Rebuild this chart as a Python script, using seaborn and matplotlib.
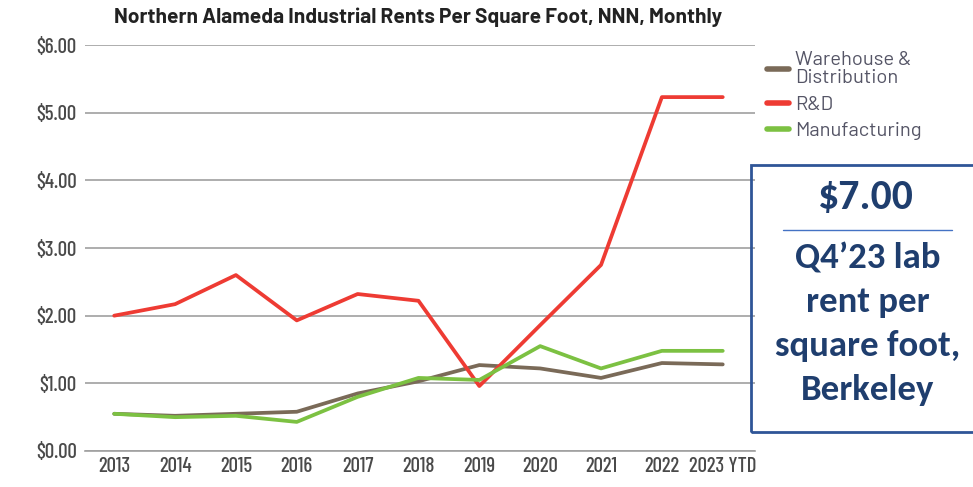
import pandas as pd
import matplotlib.pyplot as plt
import seaborn as sns
from matplotlib.patches import Rectangle
from matplotlib.lines import Line2D

# Data
years = ['2013', '2014', '2015', '2016', '2017', '2018', '2019', '2020', '2021', '2022', '2023 YTD']
warehouse = [0.55, 0.52, 0.55, 0.58, 0.85, 1.03, 1.27, 1.22, 1.08, 1.30, 1.28]
rnd = [2.00, 2.17, 2.60, 1.93, 2.32, 2.22, 0.96, 1.86, 2.75, 5.23, 5.23]
manufacturing = [0.55, 0.50, 0.52, 0.43, 0.80, 1.08, 1.05, 1.55, 1.22, 1.48, 1.48]
series_names = ['Warehouse &\nDistribution', 'R&D', 'Manufacturing']
y_ticks = [0, 1, 2, 3, 4, 5, 6]

palette = {'Warehouse &\nDistribution': '#7A6A58', 'R&D': '#EE3B33', 'Manufacturing': '#7CC142'}
TEXT = '#4A4A4A'
NAVY = '#1F3E6E'
COND = ['Barlow Condensed', 'DejaVu Sans']
WIDE = ['Barlow', 'DejaVu Sans']
BOXFONT = ['Carlito', 'DejaVu Sans']

rows = []
for name, vals in zip(series_names, [warehouse, rnd, manufacturing]):
    for i, (yr, v) in enumerate(zip(years, vals)):
        rows.append({'idx': i, 'year': yr, 'rent': v, 'series': name})
df = pd.DataFrame(rows)

sns.set_style('white')
fig = plt.figure(figsize=(9.73, 4.87), dpi=100)
ax = fig.add_axes([85 / 973, 1 - 451 / 487, (755 - 85) / 973, (451 - 45) / 487])

sns.lineplot(data=df, x='idx', y='rent', hue='series', palette=palette,
             hue_order=series_names, linewidth=2.7, ax=ax, legend=False)

ax.set_xlim(-0.48, 10.53)
ax.set_ylim(0, 6)
ax.set_yticks(y_ticks)
ax.set_yticklabels([f'${v:.2f}' for v in y_ticks], fontsize=15, color=TEXT,
                   family=COND, fontweight='medium')
ax.set_xticks(range(len(years)))
ax.set_xticklabels(years, fontsize=15, color=TEXT, family=COND, fontweight='medium')
ax.yaxis.grid(True, color='#A0A0A0', linewidth=1.2)
ax.set_axisbelow(True)
for s in ['top', 'right', 'left']:
    ax.spines[s].set_visible(False)
ax.spines['bottom'].set_color('#A0A0A0')
ax.spines['bottom'].set_linewidth(1.2)
ax.tick_params(axis='y', length=0, pad=6)
ax.tick_params(axis='x', direction='in', length=8, color='#A0A0A0', width=1, pad=4)
ax.set_xlabel('')
ax.set_ylabel('')

fig.text(418 / 973, 1 - 17 / 487, 'Northern Alameda Industrial Rents Per Square Foot, NNN, Monthly',
         ha='center', va='center', fontsize=15, fontweight='bold', color='#222222', family=WIDE)

# Legend
handles = [Line2D([], [], color=palette[n], linewidth=4, solid_capstyle='round') for n in series_names]
leg = fig.legend(handles, series_names, loc='upper left', bbox_to_anchor=(749 / 973, 1 - 33 / 487),
                 frameon=False, handlelength=1.1, handletextpad=0.3, labelspacing=0.42,
                 prop={'family': WIDE, 'size': 14.5})
for t in leg.get_texts():
    t.set_color('#555566')
    t.set_linespacing(1.0)

# Callout box
fig.add_artist(Rectangle((751 / 973, 1 - 432 / 487), 240 / 973, (432 - 165) / 487,
                         transform=fig.transFigure, fill=False, edgecolor='#2F5597', linewidth=2))
fig.text(866 / 973, 1 - 198 / 487, '$7.00', ha='center', va='center', fontsize=30,
         fontweight='bold', color=NAVY, family=BOXFONT)
fig.add_artist(Line2D([783 / 973, 952 / 973], [1 - 230 / 487, 1 - 230 / 487],
                      transform=fig.transFigure, color='#4472C4', linewidth=1))
fig.text(868 / 973, 1 - 324 / 487, 'Q4\u201923 lab\nrent per\nsquare foot,\nBerkeley',
         ha='center', va='center', fontsize=26.5, fontweight='bold', color=NAVY,
         linespacing=1.45, family=BOXFONT)

plt.savefig('out.png', dpi=100)
